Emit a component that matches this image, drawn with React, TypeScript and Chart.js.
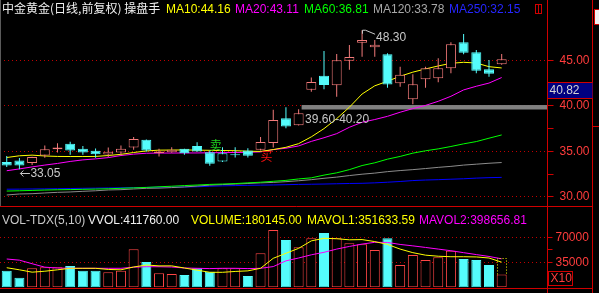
import React, { useEffect, useRef } from 'react';
import { Chart, registerables } from 'chart.js';

Chart.register(...registerables);

// ---------------- data ----------------
const sessions = Array.from({ length: 40 }, (_, i) => i);

const opens = [33.83, 34.00, 33.72, 34.55, 35.25, 35.83, 35.28, 35.07, 34.66, 34.88,
  35.43, 36.27, 34.82, 34.92, 35.28, 35.60, 34.92, 33.89, 34.58, 35.10,
  35.17, 35.91, 38.65, 37.88, 41.78, 43.31, 42.26, 44.96, 46.93, 46.42,
  45.66, 42.48, 40.73, 42.92, 43.03, 44.12, 46.97, 45.88, 44.01, 44.56];
const closes = [33.46, 33.46, 34.38, 35.25, 35.43, 35.10, 34.88, 34.70, 34.96, 35.28,
  36.35, 35.10, 34.99, 35.17, 34.81, 34.99, 33.64, 34.81, 34.68, 34.52,
  36.02, 38.46, 37.73, 39.20, 42.62, 42.29, 45.00, 45.36, 47.22, 46.71,
  42.33, 43.42, 42.37, 44.12, 44.12, 46.75, 45.83, 43.86, 43.53, 45.11];
const highs = [34.50, 34.27, 34.42, 35.65, 35.90, 36.05, 35.60, 35.32, 35.43, 35.65,
  36.57, 36.30, 35.28, 35.47, 35.30, 36.00, 35.10, 35.47, 35.47, 35.36,
  36.57, 39.56, 39.85, 39.63, 43.10, 46.02, 45.69, 46.68, 48.30, 47.22,
  45.77, 44.30, 43.47, 44.30, 45.22, 46.97, 47.88, 46.13, 45.03, 45.69];
const lows = [33.30, 33.05, 33.50, 34.30, 34.88, 34.63, 34.63, 34.30, 34.38, 34.55,
  35.17, 34.99, 34.44, 34.85, 34.63, 34.95, 33.42, 33.85, 34.33, 34.33,
  35.10, 35.43, 37.55, 37.85, 41.56, 41.82, 41.01, 43.97, 45.39, 45.39,
  42.00, 42.10, 40.18, 42.00, 42.59, 43.58, 45.66, 43.58, 43.20, 44.50];

const ma10 = [34.33, 34.52, 34.59, 34.50, 34.45, 34.44, 34.44, 34.45, 34.55, 34.68,
  34.88, 35.05, 35.14, 35.15, 35.16, 35.14, 35.12, 35.10, 35.08, 35.02,
  35.00, 35.20, 35.45, 35.85, 36.60, 37.50, 38.60, 39.85, 41.30, 42.20,
  42.70, 43.25, 43.70, 44.05, 44.38, 44.67, 44.78, 44.70, 44.30, 44.16];
const ma20 = [32.88, 33.08, 33.30, 33.50, 33.68, 33.90, 34.07, 34.18, 34.32, 34.55,
  34.70, 34.80, 34.82, 34.82, 34.83, 34.83, 34.85, 34.87, 34.88, 34.90,
  34.95, 35.20, 35.35, 35.60, 36.10, 36.50, 36.95, 37.65, 38.20, 38.50,
  38.85, 39.30, 39.70, 40.05, 40.50, 41.05, 41.75, 42.15, 42.50, 43.11];
const ma60 = [30.65, 30.68, 30.72, 30.76, 30.79, 30.81, 30.84, 30.87, 30.90, 30.95,
  31.00, 31.05, 31.12, 31.18, 31.25, 31.31, 31.38, 31.42, 31.47, 31.55,
  31.62, 31.72, 31.82, 31.98, 32.10, 32.40, 32.65, 33.00, 33.45, 33.75,
  34.15, 34.45, 34.81, 35.07, 35.28, 35.54, 35.83, 36.08, 36.45, 36.81];
const ma120 = [30.22, 30.33, 30.36, 30.44, 30.51, 30.55, 30.62, 30.68, 30.77, 30.80,
  30.88, 30.95, 30.97, 31.03, 31.10, 31.20, 31.30, 31.36, 31.42, 31.48,
  31.55, 31.60, 31.68, 31.78, 31.90, 32.05, 32.18, 32.35, 32.50, 32.62,
  32.78, 32.90, 33.00, 33.12, 33.25, 33.36, 33.50, 33.60, 33.70, 33.78];
const ma250 = [30.85, 30.86, 30.88, 30.89, 30.91, 30.93, 30.95, 30.97, 30.99, 31.01,
  31.03, 31.05, 31.07, 31.09, 31.10, 31.12, 31.18, 31.22, 31.25, 31.28,
  31.30, 31.32, 31.35, 31.38, 31.40, 31.42, 31.45, 31.48, 31.50, 31.55,
  31.62, 31.70, 31.80, 31.86, 31.90, 31.95, 32.00, 32.07, 32.12, 32.15];

const volumes = [232400, 134400, 266000, 280000, 280000, 298200, 232400, 232400, 210000, 232400,
  532000, 354200, 196000, 186200, 172200, 266000, 218400, 266000, 266000, 158200,
  476000, 802200, 662200, 560000, 686000, 760200, 686000, 616000, 602000, 522200,
  686000, 312200, 452200, 382200, 420000, 512400, 396200, 382200, 312200, 180145];
const mavol1 = [274000, 245000, 212000, 225000, 245000, 266000, 266000, 266000, 250000, 245000,
  284000, 312000, 300000, 300000, 270000, 240000, 210000, 210000, 222000, 230000,
  266000, 406000, 476000, 545000, 650000, 686000, 680000, 665000, 668000, 640000,
  600000, 535000, 485000, 450000, 435000, 428000, 428000, 425000, 410000, 351633.59];
const mavol2 = [396000, 380000, 330000, 282000, 270000, 266000, 266000, 266000, 266000, 266000,
  282000, 288000, 288000, 284000, 270000, 266000, 262000, 266000, 266000, 262000,
  266000, 290000, 370000, 410000, 455000, 490000, 535000, 572000, 605000, 630000,
  628000, 600000, 580000, 558000, 535000, 512000, 485000, 458000, 432000, 398656.81];
const vvol = 411760;

const priceTicks = [30, 35, 40, 45];
const priceMinorTicks = [32.5, 37.5, 42.5];
const volTicks = [350000, 700000];
const volMinorTicks = [525000];
const volUnit = 10;

const supportBand = [39.6, 40.2];
const supportStart = 23;
const cursorPrice = 40.82;
const sellSignal = 16;
const buySignal = 20;
const titleText = '中金黄金(日线,前复权) 操盘手';

// ---------------- styles ----------------
const NUM_FONT = '12px "Liberation Sans", Arial, sans-serif';
const CJK_FONT = '12px "Noto Sans CJK SC", sans-serif';
const C = {
  cyan: '#54fcfc',
  upCandle: '#f27a7a',
  upVol: '#ff4646',
  grid: '#c00000',
  axis: '#d00000',
  axisText: '#ff3c3c',
  yellow: '#ffff00',
  magenta: '#ff00ff',
  green: '#00ff00',
  gray: '#8c8c8c',
  grayText: '#a8a8a8',
  blue: '#0000ff',
  blueText: '#2626ff',
  band: '#808080',
  label: '#c8c8c8',
  white: '#f0f0f0',
  sell: '#1ed21e',
  buy: '#ff1010',
};

const X_MIN = -0.53;
const X_MAX = 42.61;
const AXIS_W = 51.5;

function hline(ctx: any, x1: number, x2: number, y: number, color: string) {
  ctx.strokeStyle = color; ctx.lineWidth = 1; ctx.setLineDash([]);
  ctx.beginPath(); ctx.moveTo(x1, y); ctx.lineTo(x2, y); ctx.stroke();
}
function vline(ctx: any, x: number, y1: number, y2: number, color: string) {
  ctx.strokeStyle = color; ctx.lineWidth = 1; ctx.setLineDash([]);
  ctx.beginPath(); ctx.moveTo(x, y1); ctx.lineTo(x, y2); ctx.stroke();
}
function text(ctx: any, s: string, x: number, y: number, color: string, font = NUM_FONT, baseline = 'alphabetic') {
  ctx.font = font; ctx.fillStyle = color; ctx.textAlign = 'left'; ctx.textBaseline = baseline;
  ctx.fillText(s, x, y);
}

const isUp = (i: number) => closes[i] >= opens[i];
const inSellZone = (i: number) => i >= sellSignal && i < buySignal;

const mainDecor = {
  id: 'mainDecor',
  beforeDatasetsDraw(chart: any) {
    const { ctx, chartArea, scales } = chart;
    const x0 = scales.x.getPixelForValue(supportStart) + 3;
    const yt = scales.y.getPixelForValue(supportBand[1]);
    const yb = scales.y.getPixelForValue(supportBand[0]);
    ctx.save();
    ctx.fillStyle = C.band;
    ctx.fillRect(x0, yt + 1, chartArea.right - x0, yb - yt - 1);
    ctx.restore();
  },
  afterDraw(chart: any) {
    const { ctx, chartArea, scales } = chart;
    const xs = scales.x, ys = scales.y;
    const H = chart.height;
    const R = chartArea.right;
    ctx.save();
    // frame
    vline(ctx, 0.5, 0, H, '#5a5a5a');
    vline(ctx, R, 0, H, C.axis);
    vline(ctx, 592.5, 0, H, C.axis);
    hline(ctx, 0, 593, H - 0.5, C.axis);
    hline(ctx, 593, 599, 126.5, C.axis);
    ctx.fillStyle = '#f0f0f0'; ctx.fillRect(595, 10, 4, 14);
    ctx.strokeStyle = C.axis; ctx.strokeRect(594.5, 9.5, 5, 15);

    // title + MA legend
    text(ctx, titleText, 2, 8.5, C.white, CJK_FONT, 'middle');
    const legend: [string, number[], string, number][] = [
      ['MA10', ma10, C.yellow, 166], ['MA20', ma20, C.magenta, 235], ['MA60', ma60, C.green, 304],
      ['MA120', ma120, C.grayText, 373], ['MA250', ma250, C.blueText, 449],
    ];
    legend.forEach(([name, arr, color, x]) => text(ctx, `${name}:${arr[arr.length - 1].toFixed(2)}`, x, 13, color));
    ctx.strokeStyle = C.axis; ctx.lineWidth = 1;
    ctx.strokeRect(535.5, 4.5, 6, 9);
    vline(ctx, 538.5, 4.5, 13.5, C.axis);

    // support band label
    const bx = xs.getPixelForValue(supportStart);
    text(ctx, `${supportBand[0].toFixed(2)}-${supportBand[1].toFixed(2)}`, bx + 6.5, ys.getPixelForValue(supportBand[0]) + 13.5, C.label);

    // highest / lowest markers
    const hi = Math.max(...highs), hiIdx = highs.indexOf(hi);
    const lo = Math.min(...lows), loIdx = lows.indexOf(lo);
    const hx = xs.getPixelForValue(hiIdx), hy = ys.getPixelForValue(hi);
    ctx.strokeStyle = C.label; ctx.lineWidth = 1;
    ctx.beginPath();
    ctx.moveTo(Math.round(hx) + 0.5, hy + 3.5); ctx.lineTo(Math.round(hx) + 0.5, hy);
    ctx.lineTo(Math.round(hx) + 3.5, hy); ctx.lineTo(hx + 13, hy + 4);
    ctx.stroke();
    text(ctx, hi.toFixed(2), hx + 14, hy + 7.5, C.label, NUM_FONT, 'middle');
    const lx = xs.getPixelForValue(loIdx), ly = Math.round(ys.getPixelForValue(lo) + 3.5) + 0.5;
    ctx.beginPath();
    ctx.moveTo(lx + 1, ly); ctx.lineTo(lx + 10.5, ly);
    ctx.moveTo(lx + 1, ly); ctx.lineTo(lx + 4, ly - 3);
    ctx.moveTo(lx + 1, ly); ctx.lineTo(lx + 4, ly + 3);
    ctx.stroke();
    text(ctx, lo.toFixed(2), lx + 11, ly, C.label, NUM_FONT, 'middle');

    // trade signals
    text(ctx, '卖', xs.getPixelForValue(sellSignal), ys.getPixelForValue(highs[sellSignal]) - 5, C.sell, CJK_FONT, 'middle');
    text(ctx, '买', xs.getPixelForValue(buySignal), ys.getPixelForValue(lows[buySignal]) + 5.5, C.buy, CJK_FONT, 'middle');

    // cursor price box
    const cb = Math.round(ys.getPixelForValue(cursorPrice)) + 0.5;
    const ct = cb - 16;
    ctx.fillStyle = '#000080';
    ctx.fillRect(R + 0.5, ct, 592 - R, cb - ct);
    hline(ctx, R, 592.5, ct, C.axis);
    hline(ctx, R, 592.5, cb, C.axis);
    text(ctx, cursorPrice.toFixed(2), R + 2, (ct + cb) / 2 + 0.5, '#d4d4d4', NUM_FONT, 'middle');
    ctx.restore();
  },
};

const volDecor = {
  id: 'volDecor',
  afterDraw(chart: any) {
    const { ctx, chartArea, scales } = chart;
    const xs = scales.x, ys = scales.y;
    const H = chart.height;
    const R = chartArea.right;
    ctx.save();
    vline(ctx, R, 0, H, C.axis);
    vline(ctx, 592.5, 0, H, C.axis);
    hline(ctx, 0, 593, 81.5, C.axis);

    // legend
    const last = volumes.length - 1;
    text(ctx, 'VOL-TDX(5,10)', 2, 16.5, C.label);
    text(ctx, `VVOL:${vvol.toFixed(2)}`, 88, 16.5, C.white);
    text(ctx, `VOLUME:${volumes[last].toFixed(2)}`, 191, 16.5, C.yellow);
    text(ctx, `MAVOL1:${mavol1[last].toFixed(2)}`, 307, 16.5, C.yellow);
    text(ctx, `MAVOL2:${mavol2[last].toFixed(2)}`, 419, 16.5, C.magenta);

    // estimated full-day volume box
    const cx = xs.getPixelForValue(last);
    const l = Math.round(cx - 5) + 0.5, r = Math.round(cx + 5) - 0.5;
    const yt = Math.round(ys.getPixelForValue(vvol)) + 0.5;
    const yb = ys.getPixelForValue(volumes[last]);
    ctx.strokeStyle = C.yellow; ctx.lineWidth = 1; ctx.setLineDash([1, 2]);
    ctx.beginPath(); ctx.moveTo(l, yb); ctx.lineTo(l, yt); ctx.lineTo(r, yt); ctx.lineTo(r, yb); ctx.stroke();
    ctx.setLineDash([]);

    // unit box
    ctx.strokeStyle = C.axis;
    ctx.strokeRect(R + 1, 64.5, 24, 14);
    text(ctx, `X${volUnit}`, R + 3, 72, C.axisText, NUM_FONT, 'middle');
    ctx.restore();
  },
};

const pts = (arr: number[]) => arr.map((v, i) => ({ x: sessions[i], y: v }));
const lineDs = (label: string, data: number[], color: string, order: number) => ({
  type: 'line', label, data: pts(data), borderColor: color, backgroundColor: color,
  borderWidth: 1, pointRadius: 0, tension: 0, order,
});

function rightAxis(min: number, max: number, majors: number[], minors: number[], fmt: (v: number) => string, tickLen: number, pad: number) {
  return {
    position: 'right', min, max, bounds: 'data', beginAtZero: false,
    afterBuildTicks: (s: any) => { s.ticks = [...minors, ...majors].sort((a, b) => a - b).map((v) => ({ value: v })); },
    afterFit: (s: any) => { s.width = AXIS_W; s.paddingTop = 0; s.paddingBottom = 0; },
    ticks: {
      autoSkip: false, padding: pad, color: C.axisText,
      font: { family: '"Liberation Sans", Arial, sans-serif', size: 12 },
      callback: (v: number) => (majors.includes(v) ? fmt(v) : ''),
    },
    grid: {
      color: (ctx: any) => (ctx.tick && majors.includes(ctx.tick.value) ? C.grid : 'rgba(0,0,0,0)'),
      tickColor: C.axis, tickLength: tickLen, lineWidth: 1,
    },
    border: { display: false, dash: [1, 3] },
  };
}

const xAxis = { type: 'linear', min: X_MIN, max: X_MAX, display: false, offset: false, bounds: 'data' };

function buildMainConfig() {
  const stroke = sessions.map((i) => (!isUp(i) || inSellZone(i) ? C.cyan : C.upCandle));
  const fill = sessions.map((i) => (isUp(i) ? '#000000' : C.cyan));
  return {
    type: 'bar',
    data: {
      datasets: [
        lineDs('MA250', ma250, C.blue, 7),
        lineDs('MA120', ma120, C.gray, 6),
        lineDs('MA60', ma60, C.green, 5),
        lineDs('MA20', ma20, C.magenta, 4),
        lineDs('MA10', ma10, C.yellow, 3),
        {
          type: 'bar', label: 'wick', data: sessions.map((i) => ({ x: i, y: [lows[i], highs[i]] })),
          backgroundColor: stroke, borderWidth: 0, barThickness: 1, grouped: false, inflateAmount: 0, order: 1,
        },
        {
          type: 'bar', label: 'body',
          data: sessions.map((i) => ({ x: i, y: [Math.min(opens[i], closes[i]), Math.max(opens[i], closes[i])] })),
          backgroundColor: fill, borderColor: stroke, borderWidth: 1, borderSkipped: false,
          barThickness: 10, grouped: false, inflateAmount: 0, order: 0,
        },
      ],
    },
    options: {
      responsive: false, animation: false, devicePixelRatio: 1, events: [],
      layout: { padding: 0 },
      plugins: { legend: { display: false }, tooltip: { enabled: false } },
      scales: {
        x: xAxis,
        y: rightAxis(28.9, 51.617, priceTicks, priceMinorTicks, (v) => v.toFixed(2), 6, 6),
      },
    },
    plugins: [mainDecor],
  };
}

function buildVolConfig() {
  const stroke = sessions.map((i) => (isUp(i) ? C.upVol : C.cyan));
  const fill = sessions.map((i) => (isUp(i) ? '#000000' : C.cyan));
  return {
    type: 'bar',
    data: {
      datasets: [
        {
          type: 'bar', label: 'VOLUME', data: sessions.map((i) => ({ x: i, y: volumes[i] })),
          backgroundColor: fill, borderColor: stroke, borderWidth: 1, borderSkipped: false,
          barThickness: 10, grouped: false, inflateAmount: 0, order: 3,
        },
        lineDs('MAVOL2', mavol2, C.magenta, 1),
        lineDs('MAVOL1', mavol1, C.yellow, 0),
      ],
    },
    options: {
      responsive: false, animation: false, devicePixelRatio: 1, events: [],
      layout: { padding: { top: 0, left: 0, right: 0, bottom: 5.7 } },
      plugins: { legend: { display: false }, tooltip: { enabled: false } },
      scales: {
        x: xAxis,
        y: rightAxis(0, 1124200, volTicks, volMinorTicks, (v) => String(v / volUnit), 5, 3),
      },
    },
    plugins: [volDecor],
  };
}

export default function App() {
  const mainRef = useRef<HTMLCanvasElement | null>(null);
  const volRef = useRef<HTMLCanvasElement | null>(null);
  useEffect(() => {
    const main = new Chart(mainRef.current as HTMLCanvasElement, buildMainConfig() as any);
    const vol = new Chart(volRef.current as HTMLCanvasElement, buildVolConfig() as any);
    return () => { main.destroy(); vol.destroy(); };
  }, []);
  return (
    <div style={{ position: 'fixed', left: 0, top: 0, width: 599, height: 293, background: '#000', overflow: 'hidden' }}>
      <canvas ref={mainRef} width={599} height={207} style={{ position: 'absolute', left: 0, top: 0, width: 599, height: 207 }} />
      <canvas ref={volRef} width={599} height={86} style={{ position: 'absolute', left: 0, top: 207, width: 599, height: 86 }} />
    </div>
  );
}
